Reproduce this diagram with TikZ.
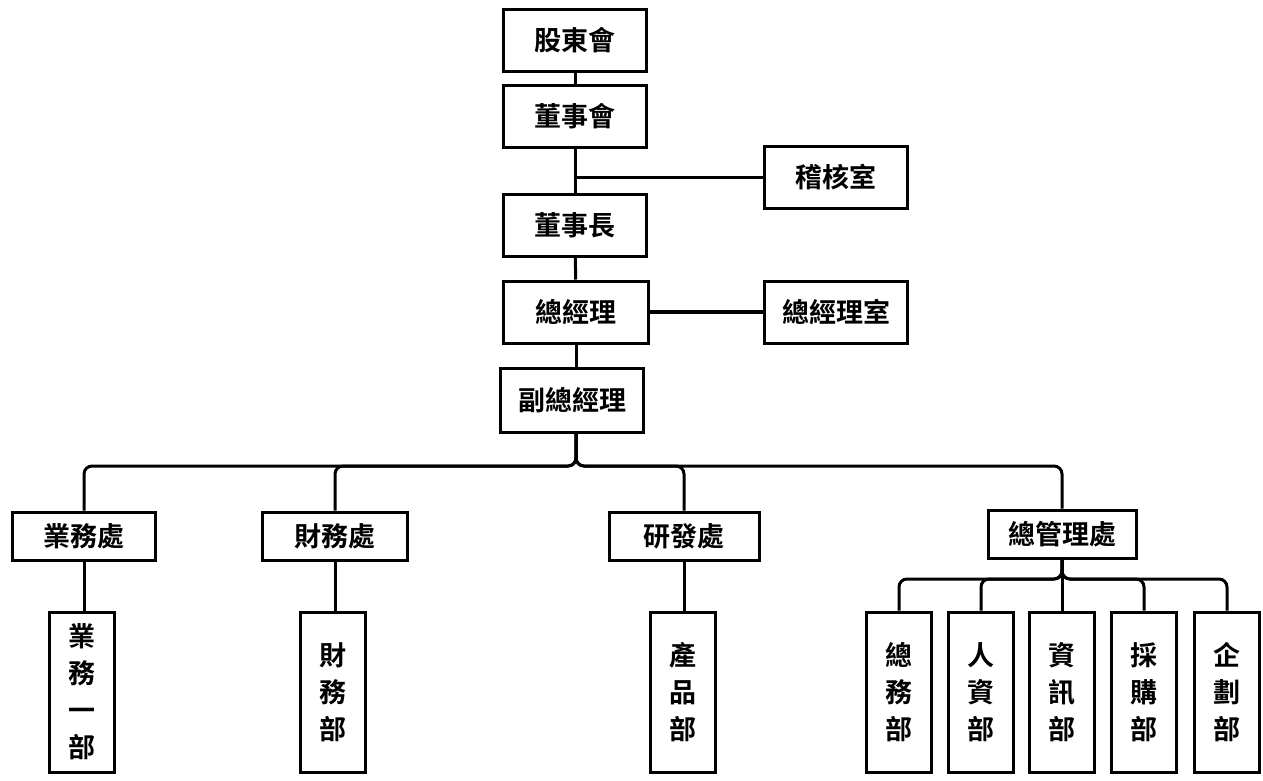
\documentclass[tikz,border=0pt]{standalone}
\usepackage{fontspec}
\setmainfont{Noto Sans CJK TC}[BoldFont={* Bold}]
\usetikzlibrary{positioning,calc}
\tikzset{
  box/.style={draw,line width=3pt,font=\bfseries\fontsize{27}{37}\selectfont,inner sep=0pt,align=center},
  hbox/.style={box,minimum width=143pt,minimum height=62pt},
  dbox/.style={box,minimum width=143pt,minimum height=48pt},
  vbox/.style={box,minimum width=65pt,minimum height=160pt},
  link/.style={line width=3pt}
}
\begin{document}
\begin{tikzpicture}[x=1pt,y=-1pt]
    \useasboundingbox (0,0) rectangle (1263,780);
    % top chain
    \node[hbox] (gdh) at (575,40) {股東會};
    \node[hbox] (dsh) at (575,116) {董事會};
    \node[hbox] (jhs) at (836,177) {稽核室};
    \node[hbox] (dsz) at (575,225) {董事長};
    \node[hbox,minimum width=145pt] (zjl) at (576,312) {總經理};
    \node[hbox] (zjls) at (836,312) {總經理室};
    \node[hbox,minimum height=64pt] (fzjl) at (572,400) {副總經理};
    \draw[link] (gdh) -- (dsh);
    \draw[link] (dsh) -- (dsz);
    \coordinate (jhsj) at (jhs.west -| dsh.south);
    \draw[link] (jhsj) -- (jhs);
    \draw[link] (dsz) -- (zjl);
    \draw[link,line width=4pt] (zjl) -- (zjls);
    \draw[link] (zjl.south) -- (zjl.south |- fzjl.north);
    % divisions
    \node[dbox] (yw) at (84,536) {業務處};
    \node[dbox,minimum width=145pt] (cw) at (335,536) {財務處};
    \node[dbox,minimum width=150pt] (yf) at (684,536) {研發處};
    \node[dbox,minimum width=148pt] (zgl) at (1062,534) {總管理處};
    \coordinate (bus) at (576,466);
    \foreach \d in {yw,cw,yf,zgl}
      \draw[link,rounded corners=8pt] (bus |- fzjl.south) -- (bus) -| (\d.north);
    % departments
    \node[vbox] (yw1) at (82,692) {業\\務\\一\\部};
    \node[vbox] (cwb) at (333,692) {財\\務\\部};
    \node[vbox] (cpb) at (683,692) {產\\品\\部};
    \draw[link] (yw) -- (yw.south |- yw1.north);
    \draw[link] (cw) -- (cw.south |- cwb.north);
    \draw[link] (yf) -- (yf.south |- cpb.north);
    \node[vbox] (zwb) at (899,692) {總\\務\\部};
    \node[vbox] (rzb) at (981,692) {人\\資\\部};
    \node[vbox] (zxb) at (1062,692) {資\\訊\\部};
    \node[vbox] (cgb) at (1144,692) {採\\購\\部};
    \node[vbox] (qhb) at (1227,692) {企\\劃\\部};
    \coordinate (sbus) at (1062,579);
    \foreach \d in {zwb,rzb,zxb,cgb,qhb}
      \draw[link,rounded corners=8pt] (zgl.south) -- (sbus) -| (\d.north);
\end{tikzpicture}
\end{document}
